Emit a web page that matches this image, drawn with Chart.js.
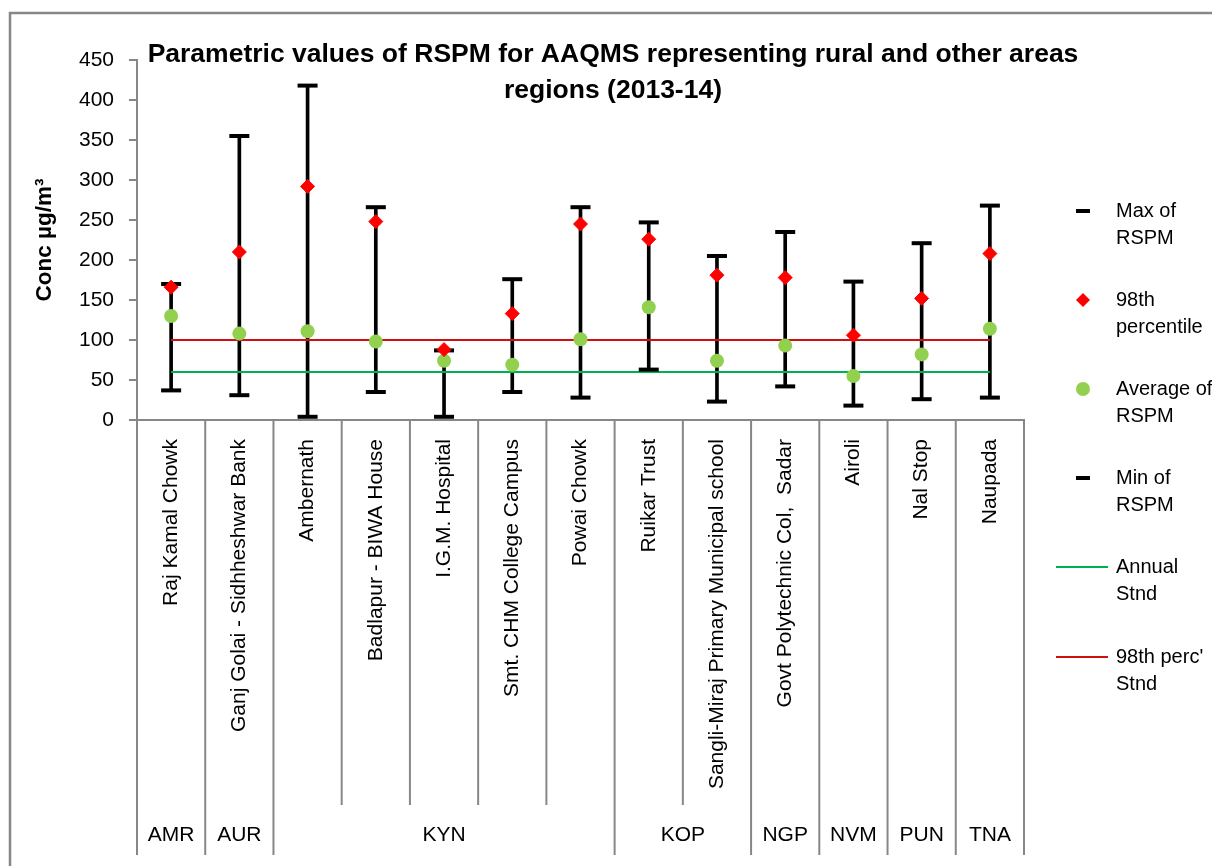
<!DOCTYPE html>
<html><head><meta charset="utf-8">
<script src="https://cdn.jsdelivr.net/npm/chart.js@4/dist/chart.umd.min.js"></script>
<style>html,body{margin:0;padding:0;background:#fff}</style>
</head><body>
<canvas id="c" width="1212" height="866"></canvas>
<script>
const categories = ["Raj Kamal Chowk", "Ganj Golai - Sidhheshwar Bank", "Ambernath", "Badlapur - BIWA House", "I.G.M. Hospital", "Smt. CHM College Campus", "Powai Chowk", "Ruikar Trust", "Sangli-Miraj Primary Municipal school", "Govt Polytechnic Col,  Sadar", "Airoli", "Nal Stop", "Naupada"];
const groupNames = ["AMR", "AUR", "KYN", "KOP", "NGP", "NVM", "PUN", "TNA"];
const groupSizes = [1, 1, 5, 2, 1, 1, 1, 1];
const maxRSPM = [170, 355, 418, 266, 87, 176, 266, 247, 205, 235, 173, 221, 268];
const p98RSPM = [166, 210, 292, 248, 88, 133, 245, 226, 181, 178, 106, 152, 208];
const avgRSPM = [130, 108, 111, 98, 74, 69, 101, 141, 74, 93, 55, 82, 114];
const minRSPM = [37, 31, 4, 35, 4, 35, 28, 63, 23, 42, 18, 26, 28];
const annualStnd = [60, 60, 60, 60, 60, 60, 60, 60, 60, 60, 60, 60, 60];
const p98Stnd = [100, 100, 100, 100, 100, 100, 100, 100, 100, 100, 100, 100, 100];
const titleLines = ["Parametric values of RSPM for AAQMS representing rural and other areas", "regions (2013-14)"];
const yTitle = "Conc µg/m³";

const FONT = "'Liberation Sans', Arial, sans-serif";
const GREY = "#878787";

const decor = {
  id: 'decor',
  afterDraw(chart) {
    const ctx = chart.ctx;
    const x = chart.scales.x, y = chart.scales.y;
    ctx.save();
    // outer chart border (top & left)
    ctx.strokeStyle = GREY; ctx.lineWidth = 2.5;
    ctx.beginPath(); ctx.moveTo(10, 866); ctx.lineTo(10, 13); ctx.lineTo(1212, 13); ctx.stroke();
    // category separators
    const w = x.getPixelForValue(1) - x.getPixelForValue(0);
    const base = y.getPixelForValue(0);
    const groupEdges = new Set([0]);
    let acc = 0; groupSizes.forEach(s => { acc += s; groupEdges.add(acc); });
    ctx.lineWidth = 2; ctx.strokeStyle = GREY;
    for (let i = 0; i <= categories.length; i++) {
      const px = x.getPixelForValue(0) - w / 2 + i * w;
      const bottom = groupEdges.has(i) ? 855 : 805;
      ctx.beginPath(); ctx.moveTo(px, base); ctx.lineTo(px, bottom); ctx.stroke();
    }
    // group labels
    ctx.fillStyle = '#000'; ctx.font = '21px ' + FONT; ctx.textAlign = 'center'; ctx.textBaseline = 'middle';
    let start = 0;
    groupSizes.forEach((s, gi) => {
      const cx = (x.getPixelForValue(start) + x.getPixelForValue(start + s - 1)) / 2;
      ctx.fillText(groupNames[gi], cx, 835);
      start += s;
    });
    // title
    ctx.font = 'bold 26.5px ' + FONT; ctx.textBaseline = 'alphabetic';
    ctx.fillText(titleLines[0], 613, 62);
    ctx.fillText(titleLines[1], 613, 98);
    // legend
    const lx = 1083, tx = 1116;
    const items = [
      {t: ["Max of", "RSPM"], y: 211, k: 'dash'},
      {t: ["98th", "percentile"], y: 300, k: 'diamond'},
      {t: ["Average of", "RSPM"], y: 389, k: 'circle'},
      {t: ["Min of", "RSPM"], y: 478, k: 'dash'},
      {t: ["Annual", "Stnd"], y: 567, k: 'line', c: '#00B050'},
      {t: ["98th perc'", "Stnd"], y: 657, k: 'line', c: '#D01010'}
    ];
    items.forEach(it => {
      if (it.k === 'dash') { ctx.fillStyle = '#000'; ctx.fillRect(lx - 7, it.y - 2, 14, 4); }
      else if (it.k === 'diamond') { ctx.fillStyle = '#FF0000'; ctx.beginPath(); ctx.moveTo(lx, it.y - 7); ctx.lineTo(lx + 7, it.y); ctx.lineTo(lx, it.y + 7); ctx.lineTo(lx - 7, it.y); ctx.closePath(); ctx.fill(); }
      else if (it.k === 'circle') { ctx.fillStyle = '#92D050'; ctx.beginPath(); ctx.arc(lx, it.y, 7, 0, Math.PI * 2); ctx.fill(); }
      else { ctx.strokeStyle = it.c; ctx.lineWidth = 2; ctx.beginPath(); ctx.moveTo(1056, it.y); ctx.lineTo(1108, it.y); ctx.stroke(); }
      ctx.fillStyle = '#000'; ctx.font = '20px ' + FONT; ctx.textAlign = 'left'; ctx.textBaseline = 'middle';
      ctx.fillText(it.t[0], tx, it.y);
      ctx.fillText(it.t[1], tx, it.y + 27);
    });
    ctx.restore();
  }
};

new Chart(document.getElementById('c'), {
  type: 'bar',
  data: {
    labels: categories,
    datasets: [
      {type: 'line', label: 'Max of RSPM', data: maxRSPM, showLine: false, pointStyle: 'line', pointRadius: 10, pointBorderWidth: 4, borderColor: '#000', backgroundColor: '#000', order: 1},
      {type: 'line', label: 'Min of RSPM', data: minRSPM, showLine: false, pointStyle: 'line', pointRadius: 10, pointBorderWidth: 4, borderColor: '#000', backgroundColor: '#000', order: 1},
      {type: 'line', label: '98th percentile', data: p98RSPM, showLine: false, pointStyle: 'rectRot', pointRadius: 7, pointBorderWidth: 1, borderColor: '#FF0000', backgroundColor: '#FF0000', order: 0},
      {type: 'line', label: 'Average of RSPM', data: avgRSPM, showLine: false, pointStyle: 'circle', pointRadius: 7, pointBorderWidth: 0, borderColor: '#92D050', backgroundColor: '#92D050', order: 0},
      {type: 'line', label: 'Annual Stnd', data: annualStnd, borderColor: '#00B050', borderWidth: 2, pointRadius: 0, fill: false, order: 2},
      {type: 'line', label: "98th perc' Stnd", data: p98Stnd, borderColor: '#D01010', borderWidth: 2, pointRadius: 0, fill: false, order: 2},
      {type: 'bar', label: 'range', data: minRSPM.map((m, i) => [m, maxRSPM[i]]), backgroundColor: '#000', barThickness: 3, order: 3}
    ]
  },
  options: {
    responsive: false, animation: false,
    layout: {padding: {top: 60, right: 188, left: 0, bottom: 0}},
    plugins: {legend: {display: false}, tooltip: {enabled: false}, title: {display: false}},
    scales: {
      x: {
        grid: {display: true, drawOnChartArea: false, drawTicks: false, color: GREY},
        border: {display: true, color: GREY, width: 2},
        ticks: {autoSkip: false, minRotation: 90, maxRotation: 90, padding: 19, color: '#000', font: {family: FONT, size: 21}},
        afterFit(s) { s.height = 446; }
      },
      y: {
        min: 0, max: 450,
        grid: {drawOnChartArea: false, drawTicks: true, tickLength: 8, color: GREY, lineWidth: 2},
        border: {display: true, color: GREY, width: 2},
        ticks: {stepSize: 50, padding: 15, color: '#000', font: {family: FONT, size: 21}},
        title: {display: true, text: yTitle, color: '#000', font: {family: FONT, size: 22.5, weight: 'bold'}, padding: {top: 31, bottom: 0}},
        afterFit(s) { s.width = 137; }
      }
    }
  },
  plugins: [decor]
});
</script>
</body></html>
